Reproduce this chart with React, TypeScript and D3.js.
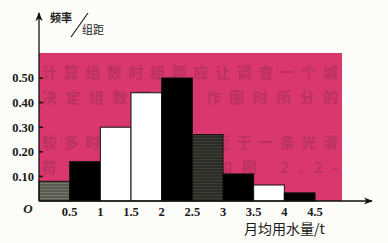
import React from 'react'
import * as d3 from 'd3'

const W = 388
const H = 243

// bins of monthly water use (t) and frequency / class width
const binStarts = [0, 0.5, 1, 1.5, 2, 2.5, 3, 3.5, 4]
const binWidth = 0.5
const density = [0.08, 0.16, 0.3, 0.44, 0.5, 0.27, 0.11, 0.065, 0.033]
const barFills = ['url(#hatchGrey)', '#000', '#fff', '#fff', '#000', 'url(#hatchDark)', '#000', '#fff', '#000']
const xTicks = ['0.5', '1', '1.5', '2', '2.5', '3', '3.5', '4', '4.5']
const yTicks = [0.1, 0.2, 0.3, 0.4, 0.5]
// show-through text from the back of the scanned page
const ghostLines = [
  '计算组数时组距应让调查一个城',
  '决定组数还细，作图时所分的',
  '较多时频率分布接近于一条光滑',
  '符合的频率分布如图 2.2-',
]
const ghostY = [72, 97, 142, 167]

const margin = {left: 39, bottom: 201}

export default function App() {
  const x = d3.scaleLinear().domain([0, 4.5]).range([margin.left, 315])
  const y = d3.scaleLinear().domain([0, 0.5]).range([margin.bottom, 78])

  return (
    <svg width={W} height={H} style={{position: 'absolute', left: 0, top: 0, background: '#fcfcf9'}}>
      <defs>
        <pattern id="hatchGrey" width="4" height="3" patternUnits="userSpaceOnUse">
          <rect width="4" height="3" fill="#5b5a50" />
          <line x1="0" y1="0.5" x2="4" y2="0.5" stroke="#77766a" strokeWidth="1" />
        </pattern>
        <pattern id="hatchDark" width="4" height="3" patternUnits="userSpaceOnUse">
          <rect width="4" height="3" fill="#2c2c26" />
          <line x1="0" y1="0.5" x2="4" y2="0.5" stroke="#3d3d34" strokeWidth="1" />
        </pattern>
        <marker id="arrow" viewBox="0 0 10 10" refX="9" refY="5" markerWidth="7" markerHeight="7" orient="auto">
          <path d="M0,1 L10,5 L0,9 L3,5 Z" fill="#111" />
        </marker>
      </defs>

      {/* pink backdrop */}
      <rect x={margin.left} y={53} width={342 - margin.left} height={margin.bottom - 53} fill="#d9376e" />
      <g fontFamily="Noto Sans CJK SC" fontWeight="bold" fontSize={15} fill="#8a2a4e" opacity={0.38}>
        {ghostLines.map((t, i) => (
          <text key={i} x={42} y={ghostY[i] + 6} textLength={296}>{t}</text>
        ))}
      </g>

      {/* bars */}
      {binStarts.map((b, i) => (
        <rect
          key={i}
          x={x(b)}
          y={y(density[i])}
          width={x(b + binWidth) - x(b)}
          height={y(0) - y(density[i])}
          fill={barFills[i]}
          stroke="#111"
          strokeWidth={1}
        />
      ))}

      {/* axes */}
      <line x1={margin.left} y1={margin.bottom} x2={372} y2={margin.bottom} stroke="#111" strokeWidth={1.3} markerEnd="url(#arrow)" />
      <line x1={margin.left} y1={margin.bottom} x2={margin.left} y2={13} stroke="#111" strokeWidth={1.3} markerEnd="url(#arrow)" />

      <g fontFamily="Liberation Serif" fontWeight="bold" fontSize={12.5} fill="#1a1a1a">
        {yTicks.map(t => (
          <g key={t}>
            <line x1={margin.left} x2={margin.left + 4} y1={y(t)} y2={y(t)} stroke="#111" strokeWidth={1.5} />
            <text x={34} y={y(t)} dy="0.35em" textAnchor="end">{d3.format('.2f')(t)}</text>
          </g>
        ))}
        {xTicks.map(t => (
          <text key={t} x={x(+t)} y={216} textAnchor="middle">{t}</text>
        ))}
        <text x={28} y={213} fontStyle="italic" fontSize={13} textAnchor="middle">O</text>
      </g>

      {/* axis titles */}
      <g fontFamily="Noto Sans CJK SC" fill="#1a1a1a">
        <text x={50} y={22} fontSize={11} fontWeight="bold">频率</text>
        <line x1={71} y1={37} x2={88} y2={13} stroke="#222" strokeWidth={1.2} />
        <text x={82} y={34} fontSize={11}>组距</text>
        <text x={244} y={234} fontSize={14}>月均用水量/t</text>
      </g>
    </svg>
  )
}
